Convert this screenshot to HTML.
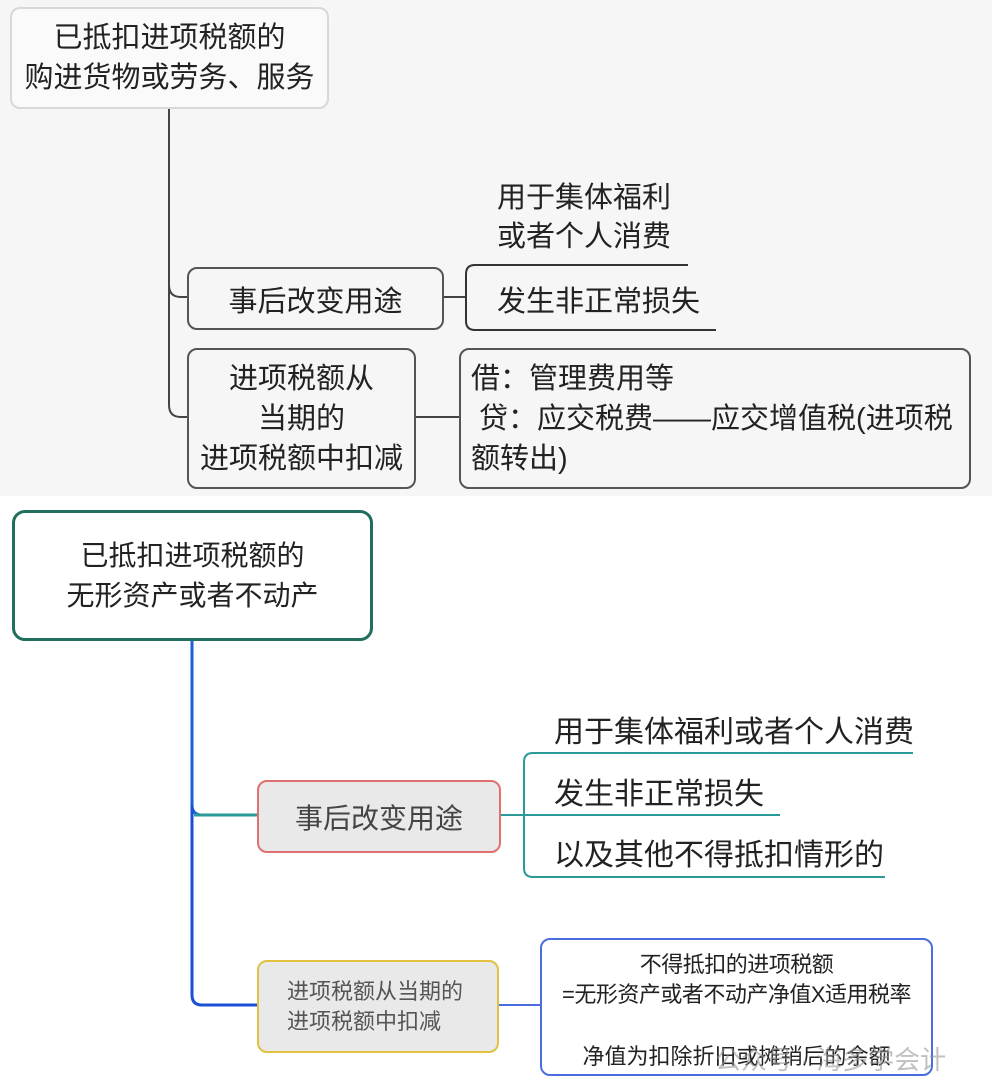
<!DOCTYPE html>
<html><head><meta charset="utf-8"><style>
*{margin:0;padding:0;box-sizing:border-box}
body{width:992px;height:1089px;background:#fff;position:relative;overflow:hidden;font-family:"Liberation Sans","Noto Sans CJK SC",sans-serif;color:#222}
.a{position:absolute}
.box{position:absolute;border-radius:10px;display:flex;align-items:center;justify-content:center;text-align:center}
.t{position:absolute;white-space:nowrap}
</style></head><body>
<div class="a" style="left:0;top:0;width:992px;height:496px;background:#f6f6f6"></div>
<svg class="a" style="left:0;top:0" width="992" height="1089">
<g fill="none" stroke="#444" stroke-width="2">
<path d="M169 109 V285 Q169 297 181 297 H187"/>
<path d="M169 285 V405 Q169 417 181 417 H187"/>
<path d="M443 297 H465"/>
<path d="M415 417 H459"/>
<path d="M688 265 H475 Q466 265 466 274 V321 Q466 330 475 330 H716" stroke="#333"/>
</g>
<g fill="none" stroke-width="3">
<path d="M192 640 V805 Q192 815 202 815 H257" stroke="#1a5fd6"/>
<path d="M194 815 H257" stroke="#2a9a98"/>
<path d="M192 805 V995 Q192 1005 202 1005 H257" stroke="#1a4fd6"/>
</g>
<g fill="none" stroke="#2a9a98" stroke-width="2">
<path d="M500 815 H780"/>
<path d="M913 753 H533 Q524 753 524 762 V868 Q524 877 533 877 H885"/>
</g>
<path d="M498 1005 H540" stroke="#4a6ee0" stroke-width="2"/>
</svg>
<div class="box" style="left:10px;top:7px;width:319px;height:102px;border:2px solid #d8d8d8;background:#fafafa;font-size:29px;line-height:40px">已抵扣进项税额的<br>购进货物或劳务、服务</div>
<div class="box" style="left:187px;top:267px;width:257px;height:63px;border:2px solid #555;font-size:29px">事后改变用途</div>
<div class="box" style="left:187px;top:348px;width:229px;height:141px;border:2px solid #555;font-size:29px;line-height:40px">进项税额从<br>当期的<br>进项税额中扣减</div>
<div class="t" style="left:497px;top:179px;font-size:29px;line-height:39px">用于集体福利<br>或者个人消费</div>
<div class="t" style="left:497px;top:283px;font-size:29px;line-height:39px">发生非正常损失</div>
<div class="box" style="left:459px;top:348px;width:512px;height:141px;border:2px solid #555;font-size:29px;line-height:40px;justify-content:flex-start;text-align:left;padding-left:10px">借：管理费用等<br>&nbsp;贷：应交税费——应交增值税(进项税<br>额转出)</div>
<div class="box" style="left:12px;top:510px;width:361px;height:131px;border:3px solid #1f6e5e;border-radius:13px;font-size:28px;line-height:40px;background:#fff">已抵扣进项税额的<br>无形资产或者不动产</div>
<div class="box" style="left:257px;top:780px;width:244px;height:73px;border:2px solid #e07070;background:#e9e9e9;font-size:28px;color:#444">事后改变用途</div>
<div class="t" style="left:554px;top:707px;font-size:30px">用于集体福利或者个人消费</div>
<div class="t" style="left:554px;top:769px;font-size:30px">发生非正常损失</div>
<div class="t" style="left:554px;top:830px;font-size:30px">以及其他不得抵扣情形的</div>
<div class="box" style="left:257px;top:960px;width:242px;height:93px;border:2px solid #e2c040;background:#e9e9e9;font-size:22px;line-height:30px;color:#555;justify-content:flex-start;text-align:left;padding-left:28px">进项税额从当期的<br>进项税额中扣减</div>
<div class="a" style="left:540px;top:938px;width:393px;height:138px;border:2px solid #4a6ee0;border-radius:10px;background:#fff"></div>
<div class="t" style="left:540px;top:950px;width:393px;text-align:center;font-size:22px;line-height:30px;letter-spacing:-0.5px">不得抵扣的进项税额<br>=无形资产或者不动产净值X适用税率</div>
<div class="t" style="left:540px;top:1039px;width:393px;text-align:center;font-size:22px">净值为扣除折旧或摊销后的余额</div>
<div class="t" style="left:715px;top:1040px;font-size:26px;color:rgba(150,150,150,0.6)">公众号 · 海多学会计</div>
</body></html>
